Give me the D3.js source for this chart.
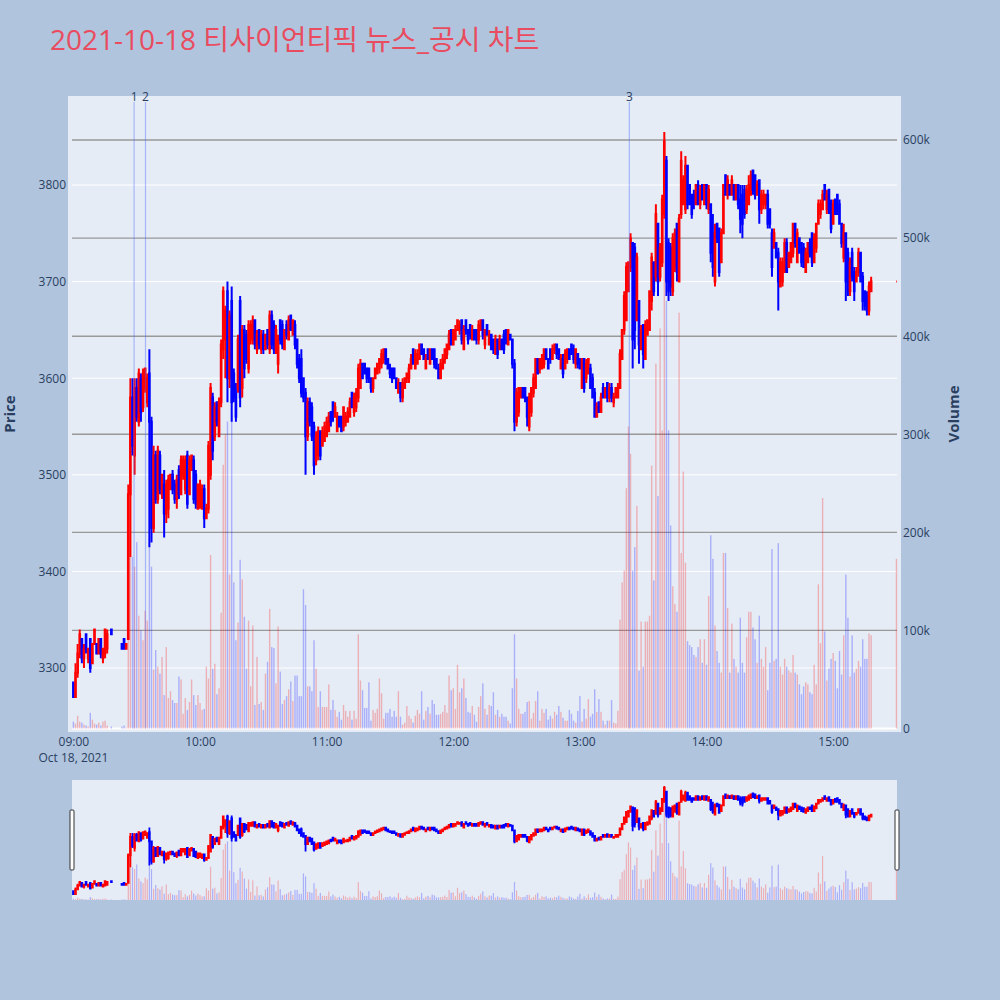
<!DOCTYPE html>
<html><head><meta charset="utf-8">
<script src="https://cdn.jsdelivr.net/npm/d3@7"></script>
<style>body{margin:0;background:#b0c4de}</style>
</head><body><svg id="c" width="1000" height="1000"></svg>
<script>
const chartTitle = "2021-10-18 티사이언티픽 뉴스_공시 차트";
const sessionStart = "2021-10-18 09:00";   // index i = minutes after this time
const opens = [
3285,3270,3295,3315,3330,3310,3335,3310,3330,3305,
3325,3325,3315,3330,3310,3315,3320,null,3340,null,
null,null,null,3325,3330,3320,3330,3480,3580,3520,
3590,3555,3600,3570,3590,3575,3605,3555,3445,3520,
3475,3520,3480,3490,3460,3465,3485,3500,3490,3475,
3505,3480,3500,3485,3520,3480,3505,3515,3500,3465,
3470,3465,3485,3455,3465,3500,3580,3540,3575,3540,
3575,3630,3640,3690,3600,3680,3605,3585,3590,3680,
3590,3650,3645,3610,3640,3640,3660,3630,3650,3630,
3645,3630,3650,3630,3665,3655,3630,3615,3660,3655,
3630,3655,3640,3665,3645,3655,3640,3620,3620,3600,
3585,3540,3575,3570,3550,3515,3520,3545,3530,3535,
3540,3545,3565,3575,3560,3545,3560,3560,3550,3555,
3555,3560,3585,3565,3570,3580,3590,3615,3615,3610,
3610,3600,3590,3600,3605,3610,3615,3620,3630,3620,
3610,3610,3610,3600,3585,3595,3580,3590,3600,3600,
3610,3630,3610,3615,3620,3635,3630,3610,3630,3615,
3630,3630,3620,3610,3600,3610,3620,3625,3630,3650,
3635,3640,3650,3650,3660,3630,3660,3650,3655,3640,
3650,3650,3640,3650,3660,3635,3655,3635,3645,3640,
3625,3640,3630,3640,3645,3650,3635,3645,3640,3615,
3555,3565,3580,3590,3590,3580,3550,3565,3585,3590,
3620,3610,3610,3615,3630,3620,3630,3620,3630,3635,
3630,3610,3620,3610,3620,3630,3635,3630,3615,3625,
3620,3590,3620,3600,3605,3610,3600,3585,3560,3575,
3565,3590,3580,3595,3580,3590,3575,3580,3580,3590,
3620,3650,3660,3690,3715,3740,3735,3660,3680,3630,
3655,3620,3645,3650,3680,3720,3705,3760,3705,3720,
3770,3825,3740,3735,3690,3715,3760,3700,3770,3780,
3775,3820,3800,3790,3790,3780,3800,3780,3800,3780,
3800,3775,3780,3750,3700,3760,3755,3720,3750,3810,
3790,3800,3790,3800,3785,3800,3785,3790,3795,3775,
3780,3790,3815,3810,3790,3805,3775,3780,3780,3790,
3775,3750,3735,3740,3730,3695,3700,3710,3740,3715,
3720,3730,3760,3720,3745,3740,3735,3710,3720,3740,
3750,3720,3735,3760,3770,3775,3800,3775,3795,3780,
3760,3785,3790,3780,3760,3725,3750,3730,3690,3730,
3710,3700,3710,3730,3705,3690,3685,3670,3690,null,
null,null,null,null,null,null,null,null,null,null,
3700];
const highs = [
3285,3305,3325,3340,3330,3325,3335,3320,3330,3325,
3340,3325,3330,3330,3320,3340,3340,null,3340,null,
null,null,null,3325,3330,3325,3490,3600,3600,3600,
3600,3610,3605,3610,3610,3605,3630,3560,3530,3525,
3530,3525,3500,3505,3495,3500,3500,3505,3495,3500,
3510,3520,3520,3520,3525,3520,3520,3520,3505,3490,
3495,3490,3490,3470,3535,3595,3585,3575,3575,3580,
3640,3695,3675,3700,3670,3695,3610,3595,3645,3685,
3655,3655,3650,3660,3660,3665,3660,3650,3650,3650,
3650,3645,3650,3670,3670,3660,3655,3645,3660,3660,
3650,3660,3665,3665,3660,3660,3640,3625,3630,3600,
3590,3580,3580,3575,3555,3545,3550,3545,3550,3555,
3560,3565,3565,3575,3575,3565,3560,3560,3570,3565,
3570,3580,3585,3585,3590,3615,3620,3615,3615,3610,
3610,3600,3600,3610,3615,3620,3630,3630,3630,3620,
3615,3610,3610,3600,3600,3595,3600,3600,3605,3615,
3625,3630,3630,3630,3635,3635,3630,3625,3630,3630,
3630,3630,3620,3615,3620,3625,3630,3635,3650,3650,
3650,3655,3660,3660,3660,3655,3660,3650,3655,3655,
3650,3650,3660,3660,3660,3650,3655,3650,3645,3640,
3645,3640,3645,3640,3650,3650,3650,3645,3640,3620,
3590,3590,3590,3590,3590,3580,3585,3590,3605,3620,
3620,3620,3625,3630,3630,3620,3630,3635,3635,3635,
3630,3625,3625,3630,3630,3630,3635,3635,3630,3625,
3620,3620,3620,3620,3620,3615,3605,3590,3575,3575,
3585,3595,3590,3595,3595,3595,3585,3590,3595,3630,
3650,3690,3720,3720,3750,3740,3740,3730,3680,3655,
3655,3660,3660,3690,3730,3720,3780,3760,3740,3790,
3855,3830,3745,3740,3750,3755,3760,3770,3835,3810,
3830,3820,3800,3790,3795,3800,3805,3800,3800,3800,
3800,3800,3780,3770,3760,3760,3755,3755,3800,3810,
3810,3800,3810,3800,3800,3800,3800,3800,3800,3800,
3810,3815,3815,3810,3805,3805,3795,3795,3790,3795,
3775,3755,3755,3740,3735,3725,3725,3745,3745,3730,
3740,3760,3760,3755,3745,3740,3740,3735,3740,3745,
3750,3750,3760,3785,3785,3795,3800,3795,3795,3785,
3785,3785,3790,3785,3760,3760,3750,3735,3725,3735,
3715,3715,3735,3730,3710,3690,3690,3700,3705,null,
null,null,null,null,null,null,null,null,null,null,
3700];
const lows = [
3270,3270,3290,3310,3305,3300,3315,3305,3295,3305,
3325,3315,3315,3310,3305,3310,3315,null,3335,null,
null,null,null,3320,3320,3320,3330,3415,3520,3500,
3555,3550,3555,3565,3585,3570,3425,3430,3440,3470,
3470,3480,3475,3435,3450,3455,3485,3480,3470,3465,
3475,3480,3495,3480,3465,3480,3505,3470,3465,3465,
3465,3465,3445,3455,3460,3495,3515,3535,3550,3540,
3570,3620,3600,3575,3590,3555,3575,3555,3585,3570,
3580,3600,3615,3605,3635,3635,3630,3625,3630,3625,
3625,3630,3630,3625,3630,3625,3625,3605,3635,3630,
3630,3640,3640,3650,3645,3630,3610,3595,3580,3575,
3500,3535,3550,3535,3500,3510,3515,3515,3530,3535,
3540,3545,3550,3555,3560,3545,3550,3545,3545,3550,
3555,3560,3570,3560,3565,3575,3590,3600,3605,3595,
3595,3585,3585,3600,3605,3605,3610,3615,3615,3610,
3600,3595,3600,3590,3585,3575,3575,3590,3595,3595,
3610,3615,3610,3615,3620,3625,3620,3610,3620,3615,
3620,3610,3610,3600,3600,3610,3615,3620,3630,3635,
3635,3640,3650,3645,3635,3630,3645,3635,3640,3640,
3640,3635,3635,3650,3640,3630,3645,3635,3630,3625,
3625,3620,3630,3630,3625,3635,3635,3640,3610,3545,
3550,3560,3580,3580,3575,3550,3545,3560,3580,3590,
3605,3605,3610,3610,3620,3610,3615,3620,3625,3620,
3620,3610,3600,3610,3615,3620,3625,3615,3610,3610,
3610,3590,3585,3595,3605,3590,3580,3560,3560,3565,
3565,3580,3580,3575,3575,3575,3570,3580,3580,3590,
3620,3645,3660,3690,3710,3610,3630,3660,3615,3630,
3610,3620,3645,3650,3670,3685,3700,3685,3700,3715,
3765,3685,3680,3685,3685,3710,3700,3700,3765,3780,
3770,3775,3780,3765,3775,3780,3780,3775,3785,3780,
3775,3770,3720,3705,3695,3740,3705,3720,3750,3790,
3785,3790,3790,3785,3785,3775,3750,3745,3765,3770,
3780,3790,3790,3785,3790,3760,3770,3775,3775,3755,
3755,3705,3735,3725,3670,3695,3695,3710,3710,3715,
3720,3725,3735,3720,3730,3715,3715,3710,3720,3725,
3715,3720,3730,3760,3765,3775,3785,3770,3770,3750,
3760,3770,3770,3760,3735,3720,3680,3685,3685,3700,
3680,3700,3705,3700,3670,3670,3665,3665,3690,null,
null,null,null,null,null,null,null,null,null,null,
3700];
const closes = [
3270,3295,3315,3335,3310,3320,3320,3320,3300,3325,
3340,3315,3330,3315,3320,3340,3335,null,3335,null,
null,null,null,3320,3320,3325,3480,3580,3530,3590,
3560,3605,3565,3605,3610,3600,3555,3445,3520,3475,
3525,3485,3500,3460,3490,3495,3500,3485,3475,3495,
3480,3515,3515,3515,3470,3515,3520,3475,3470,3490,
3490,3485,3455,3465,3530,3590,3525,3570,3555,3575,
3635,3690,3670,3600,3665,3575,3580,3560,3640,3580,
3650,3610,3620,3655,3655,3660,3635,3645,3635,3645,
3630,3645,3635,3665,3635,3630,3650,3640,3640,3635,
3650,3645,3660,3650,3660,3635,3615,3600,3585,3580,
3540,3575,3555,3540,3510,3540,3545,3520,3545,3550,
3555,3560,3555,3560,3570,3560,3550,3545,3570,3560,
3565,3575,3570,3580,3585,3610,3615,3600,3605,3600,
3600,3590,3600,3610,3615,3620,3625,3630,3615,3610,
3605,3600,3600,3590,3595,3580,3595,3600,3605,3610,
3620,3615,3625,3625,3635,3625,3620,3620,3620,3630,
3620,3615,3610,3600,3615,3620,3630,3635,3645,3635,
3650,3650,3660,3655,3640,3650,3650,3640,3645,3650,
3640,3640,3655,3660,3645,3650,3645,3645,3630,3630,
3640,3625,3640,3630,3630,3640,3650,3640,3615,3555,
3585,3590,3590,3580,3580,3560,3580,3590,3600,3620,
3605,3620,3620,3630,3620,3610,3620,3630,3635,3625,
3620,3620,3605,3625,3630,3620,3625,3620,3630,3615,
3610,3620,3590,3615,3620,3590,3580,3560,3570,3565,
3580,3580,3590,3580,3590,3580,3580,3590,3590,3625,
3650,3685,3715,3720,3745,3640,3650,3725,3635,3650,
3625,3655,3660,3690,3725,3690,3770,3700,3735,3785,
3845,3700,3690,3695,3745,3750,3710,3765,3825,3805,
3820,3780,3780,3770,3780,3800,3780,3795,3785,3800,
3780,3795,3730,3715,3750,3745,3710,3750,3800,3790,
3805,3790,3805,3785,3800,3780,3765,3760,3770,3795,
3800,3810,3795,3790,3800,3775,3790,3790,3790,3760,
3760,3715,3750,3725,3700,3720,3720,3740,3710,3730,
3740,3760,3740,3750,3730,3720,3715,3730,3740,3730,
3720,3745,3760,3780,3780,3790,3785,3790,3775,3755,
3780,3770,3770,3760,3740,3750,3700,3690,3720,3705,
3690,3710,3730,3700,3680,3675,3670,3695,3700,null,
null,null,null,null,null,null,null,null,null,null,
3700];
const volumeUnit = 1000;
const volumes = [
7,5,13,7,6,4,3,2,16,9,
5,4,6,3,7,8,3,null,2,null,
null,null,null,2,3,1,150,270,175,165,
190,115,100,90,120,110,185,165,60,80,
63,56,73,34,83,31,38,29,26,26,
53,50,15,31,19,27,50,34,24,34,
26,19,20,63,51,177,61,66,35,41,
118,269,300,313,157,320,149,90,108,172,
152,114,61,110,43,105,24,73,25,27,
19,56,68,122,83,82,46,104,58,25,
29,33,40,48,28,54,54,33,33,142,
126,43,43,38,90,61,22,38,22,22,
22,45,19,29,19,12,17,9,24,18,
12,18,9,18,10,96,49,39,21,21,
47,8,19,16,20,51,36,10,16,16,
20,12,18,12,38,12,4,6,23,13,
10,6,13,19,15,38,9,18,22,15,
29,25,14,14,15,17,24,16,54,39,
41,20,65,37,41,51,31,17,16,23,
14,7,22,33,46,20,14,24,23,37,
14,19,12,15,12,12,8,5,41,96,
51,20,15,15,17,27,28,10,16,28,
38,8,20,16,20,9,13,10,17,14,
23,17,11,8,8,19,15,8,6,18,
33,7,20,10,30,12,15,40,17,30,
17,8,4,8,8,29,6,5,18,111,
149,161,245,308,280,161,185,227,59,109,
63,109,109,115,268,151,372,237,408,304,
608,436,304,207,145,127,119,424,179,262,
169,89,85,83,75,73,83,91,67,91,
65,135,197,173,105,79,67,57,179,179,
123,57,107,71,63,57,113,67,57,93,
119,119,103,91,67,115,71,63,83,39,
67,183,69,71,189,63,55,71,63,59,
57,75,57,55,45,35,43,47,45,37,
35,65,45,147,87,235,99,49,61,71,
77,69,41,79,55,95,157,113,53,95,
57,61,69,63,91,71,71,97,95,null,
null,null,null,null,null,null,null,null,null,null,
173];
const newsTimes = ["2021-10-18 09:28:45", "2021-10-18 09:34:10", "2021-10-18 13:23:25"];
const newsLabels = ["1", "2", "3"];
const priceTicks = [3300, 3400, 3500, 3600, 3700, 3800];
const volumeTicks = [0, 100000, 200000, 300000, 400000, 500000, 600000];
const timeTicks = ["09:00", "10:00", "11:00", "12:00", "13:00", "14:00", "15:00"];
const dateLabel = "Oct 18, 2021";
const xRange = ["2021-10-18 08:59:20", "2021-10-18 15:30:15"];
const priceRange = [3237.4, 3888];
const volumeRange = [0, 640800];

// ---------- layout ----------
const UP = "#ff0000", DOWN = "#0000ff";
const TXT = "#2a3f5f";
const FONT = "'Open Sans', verdana, arial, sans-serif";
const ax = {l: 72, r: 897, t: 100, b: 728.5};
const bg = {l: 68, r: 901, t: 96, b: 732};
const sl = {t: 780, b: 900};

const svg = d3.select("#c");
svg.append("rect").attr("width", 1000).attr("height", 1000).attr("fill", "#b0c4de");

const pFull = d3.timeParse("%Y-%m-%d %H:%M:%S");
const t0 = d3.timeParse("%Y-%m-%d %H:%M")(sessionStart);
const data = [];
let prevC = null, prevUp = true;
closes.forEach((c, i) => {
  if (c == null) return;
  const o = opens[i];
  let up = c > o ? true : c < o ? false : (prevC == null ? true : c > prevC ? true : c < prevC ? false : prevUp);
  data.push({t: d3.timeMinute.offset(t0, i), o, h: highs[i], l: lows[i], c, v: volumes[i] * volumeUnit, up});
  prevC = c; prevUp = up;
});

const x = d3.scaleTime().domain(xRange.map(pFull)).range([ax.l, ax.r]);
const yP = d3.scaleLinear().domain(priceRange).range([ax.b, ax.t]);
const yV = d3.scaleLinear().domain(volumeRange).range([ax.b, ax.t]);

// title
svg.append("text").attr("x", 50).attr("y", 50).text(chartTitle)
  .attr("font-family", "'Open Sans','Noto Sans CJK KR',sans-serif").attr("font-size", 28).attr("fill", "#e84c5e");

// plot background
svg.append("rect").attr("x", bg.l).attr("y", bg.t).attr("width", bg.r - bg.l).attr("height", bg.b - bg.t).attr("fill", "#e5ecf6");

// grids
const grid = svg.append("g");
priceTicks.forEach(p => grid.append("line").attr("x1", ax.l).attr("x2", ax.r).attr("y1", yP(p)).attr("y2", yP(p))
  .attr("stroke", "#fff").attr("stroke-width", 1));
volumeTicks.filter(v => v > 0).forEach(v => grid.append("line").attr("x1", ax.l).attr("x2", ax.r).attr("y1", yV(v)).attr("y2", yV(v))
  .attr("stroke", "#999").attr("stroke-width", 1.4));
grid.append("line").attr("x1", ax.l).attr("x2", ax.r).attr("y1", yV(0)).attr("y2", yV(0)).attr("stroke", "#fff").attr("stroke-width", 2);

svg.append("clipPath").attr("id", "clipMain").append("rect")
  .attr("x", bg.l).attr("y", bg.t).attr("width", bg.r - bg.l).attr("height", bg.b - bg.t);

function candlePath(d, xs, ys, hw) {
  const cx = xs(d.t), yo = ys(d.o), yc = ys(d.c), yh = ys(d.h), yl = ys(d.l);
  const top = Math.min(yo, yc), bot = Math.max(yo, yc);
  return `M${cx - hw},${yo}V${yc}H${cx + hw}V${yo}Z M${cx},${yl}V${bot} M${cx},${yh}V${top}`;
}

function drawSeries(g, xs, ys, yv, hw, sw, bw) {
  g.selectAll("path.cd").data(data).join("path").attr("class", "cd")
    .attr("d", d => candlePath(d, xs, ys, hw))
    .attr("stroke", d => d.up ? UP : DOWN).attr("fill", d => d.up ? UP : DOWN)
    .attr("stroke-width", sw);
  g.selectAll("rect.vb").data(data).join("rect").attr("class", "vb")
    .attr("x", d => xs(d.t) - bw / 2).attr("width", bw)
    .attr("y", d => yv(d.v)).attr("height", d => yv(0) - yv(d.v))
    .attr("fill", d => d.up ? UP : DOWN).attr("fill-opacity", 0.26);
}

const main = svg.append("g").attr("clip-path", "url(#clipMain)");
drawSeries(main, x, yP, yV, 0.35, 2, 1.4);

// news lines
newsTimes.forEach((s, i) => {
  const nx = x(pFull(s));
  svg.append("line").attr("x1", nx).attr("x2", nx).attr("y1", 102).attr("y2", ax.b)
    .attr("stroke", "rgba(70,100,255,0.4)").attr("stroke-width", 1.2);
  svg.append("text").attr("x", nx).attr("y", 101).attr("text-anchor", "middle").text(newsLabels[i])
    .attr("font-family", FONT).attr("font-size", 12).attr("fill", TXT);
});

// axes
const fmtT = d3.timeParse("%Y-%m-%d %H:%M");
const xAxis = svg.append("g").attr("transform", `translate(0,${ax.b})`)
  .call(d3.axisBottom(x).tickValues(timeTicks.map(t => fmtT("2021-10-18 " + t))).tickFormat(d3.timeFormat("%H:%M")).tickSize(0).tickPadding(9));
const yAxisL = svg.append("g").attr("transform", `translate(${ax.l},0)`)
  .call(d3.axisLeft(yP).tickValues(priceTicks).tickFormat(d3.format("d")).tickSize(0).tickPadding(6));
const yAxisR = svg.append("g").attr("transform", `translate(${ax.r},0)`)
  .call(d3.axisRight(yV).tickValues(volumeTicks).tickFormat(d3.format("~s")).tickSize(0).tickPadding(6));
[xAxis, yAxisL, yAxisR].forEach(a => {
  a.select(".domain").remove();
  a.selectAll("text").attr("font-family", FONT).attr("font-size", 12).attr("fill", TXT);
});
svg.append("text").attr("x", x(fmtT("2021-10-18 09:00"))).attr("y", 762).attr("text-anchor", "middle").text(dateLabel)
  .attr("font-family", FONT).attr("font-size", 12).attr("fill", TXT);

svg.append("text").attr("transform", "translate(15,414) rotate(-90)").attr("text-anchor", "middle").text("Price")
  .attr("font-family", FONT).attr("font-size", 15).attr("font-weight", "bold").attr("fill", TXT);
svg.append("text").attr("transform", "translate(959,414) rotate(-90)").attr("text-anchor", "middle").text("Volume")
  .attr("font-family", FONT).attr("font-size", 15).attr("font-weight", "bold").attr("fill", TXT);

// range slider
svg.append("rect").attr("x", ax.l).attr("y", sl.t).attr("width", ax.r - ax.l).attr("height", sl.b - sl.t).attr("fill", "#e5ecf6");
svg.append("clipPath").attr("id", "clipSl").append("rect")
  .attr("x", ax.l).attr("y", sl.t).attr("width", ax.r - ax.l).attr("height", sl.b - sl.t);
const ysP = d3.scaleLinear().domain(priceRange).range([sl.b, sl.t]);
const ysV = d3.scaleLinear().domain(volumeRange).range([sl.b, sl.t]);
const slg = svg.append("g").attr("clip-path", "url(#clipSl)");
drawSeries(slg, x, ysP, ysV, 0.4, 1.8, 1.2);
[ax.l - 2, ax.r - 2].forEach(hx => svg.append("rect").attr("x", hx).attr("y", 810).attr("width", 4).attr("height", 60)
  .attr("fill", "#fff").attr("stroke", "#333").attr("stroke-width", 1).attr("rx", 1));
</script></body></html>
